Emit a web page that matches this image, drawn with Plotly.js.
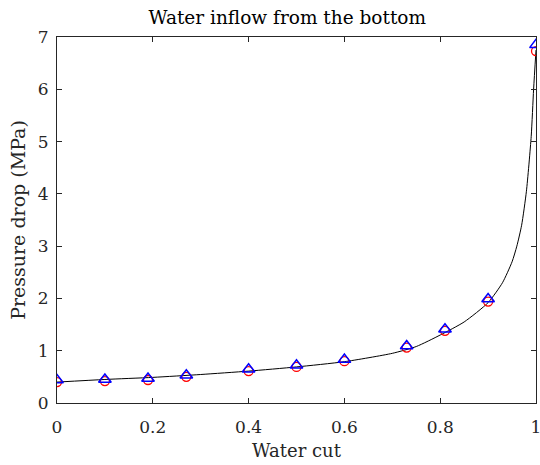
<!DOCTYPE html>
<html>
<head>
<meta charset="utf-8">
<script src="https://cdn.plot.ly/plotly-3.0.1.min.js"></script>
<style>html,body{margin:0;padding:0;background:#fff;}#plot{width:540px;height:465px;}</style>
</head>
<body>
<div id="plot"></div>
<script>
// Measured points (water cut vs pressure drop, MPa)
const waterCut = [0, 0.1, 0.19, 0.27, 0.4, 0.5, 0.6, 0.73, 0.81, 0.9, 1.0];
const dropCircles = [0.40, 0.42, 0.44, 0.50, 0.61, 0.69, 0.80, 1.06, 1.38, 1.94, 6.73];
const dropTriangles = [0.44, 0.45, 0.47, 0.53, 0.645, 0.72, 0.83, 1.09, 1.41, 1.99, 6.85];

// Model curve
const modelCut = [0, 0.1, 0.2, 0.3, 0.4, 0.5, 0.6, 0.7, 0.75, 0.8, 0.85, 0.9, 0.93, 0.95, 0.96, 0.97, 0.98, 0.99, 0.995, 1.0];
const modelDrop = [0.40, 0.45, 0.49, 0.545, 0.61, 0.69, 0.79, 0.95, 1.08, 1.30, 1.55, 1.92, 2.3, 2.7, 3.0, 3.4, 4.05, 5.1, 6.0, 6.75];

const xTicks = [0, 0.2, 0.4, 0.6, 0.8, 1];
const xTickText = ['0', '0.2', '0.4', '0.6', '0.8', '1'];
const yTicks = [0, 1, 2, 3, 4, 5, 6, 7];

const serif = '"DejaVu Serif", "Liberation Serif", serif';
const ink = '#262626';

const traces = [
  {x: modelCut, y: modelDrop, mode: 'lines', line: {color: '#000', width: 1, shape: 'spline', smoothing: 0.6}, hoverinfo: 'skip'},
  {x: waterCut, y: dropCircles, mode: 'markers', marker: {symbol: 'circle-open', size: 9, color: '#ff0000', line: {width: 1.3}}},
  {x: waterCut, y: dropTriangles, mode: 'markers', marker: {symbol: 'triangle-up-open', size: 11, color: '#0000ff', line: {width: 1.5}}}
];

const axisBase = {
  showline: true, linecolor: ink, linewidth: 1, mirror: 'allticks',
  ticks: 'inside', ticklen: 5, tickcolor: ink, tickwidth: 1,
  showgrid: false, zeroline: false, ticklabeloverflow: 'allow',
  tickfont: {family: serif, size: 17, color: ink}
};

const layout = {
  width: 540, height: 465,
  margin: {l: 57, r: 4, t: 37, b: 62},
  paper_bgcolor: '#fff', plot_bgcolor: '#fff',
  showlegend: false,
  title: {text: 'Water inflow from the bottom', font: {family: serif, size: 18.5, color: '#000'}, x: 0.532, xanchor: 'center', y: 0.962, yanchor: 'middle'},
  xaxis: Object.assign({}, axisBase, {range: [-1e-6, 1 + 1e-6], tickvals: xTicks, ticktext: xTickText, ticklabelstandoff: 9,
    title: {text: 'Water cut', font: {family: serif, size: 18, color: ink}, standoff: 7}}),
  yaxis: Object.assign({}, axisBase, {range: [-1e-6, 7 + 1e-6], tickvals: yTicks, ticklabelstandoff: 4,
    title: {text: 'Pressure drop (MPa)', font: {family: serif, size: 19, color: ink}, standoff: 7}})
};

Plotly.newPlot('plot', traces, layout, {displayModeBar: false, staticPlot: true});
</script>
</body>
</html>
